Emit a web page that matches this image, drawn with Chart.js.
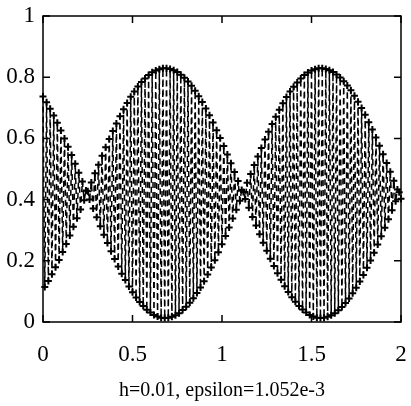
<!DOCTYPE html>
<html><head><meta charset="utf-8">
<script src="https://cdn.jsdelivr.net/npm/chart.js@4.4.1/dist/chart.umd.min.js"></script>
<style>html,body{margin:0;padding:0;background:#fff;}canvas{display:block;}</style>
</head><body>
<canvas id="c" width="411" height="406"></canvas>
<script>
// step size in x
const h = 0.01;
const xTicks = [0, 0.5, 1, 1.5, 2];
const yTicks = [0, 0.2, 0.4, 0.6, 0.8, 1];
const titleText = 'h=0.01, epsilon=1.052e-3';

// values at even steps n = 0,2,...,200 (x = 0, 0.02, ..., 2)
const evenVals = [
0.737,0.718,0.697,0.675,0.651,0.626,0.600,0.573,0.546,0.517,
0.488,0.459,0.430,0.400,0.371,0.342,0.313,0.285,0.258,0.231,
0.206,0.181,0.158,0.137,0.116,0.097,0.080,0.065,0.052,0.040,
0.031,0.023,0.018,0.014,0.013,0.014,0.017,0.022,0.029,0.039,
0.050,0.063,0.078,0.095,0.113,0.133,0.155,0.178,0.202,0.228,
0.254,0.281,0.309,0.338,0.367,0.396,0.425,0.455,0.484,0.513,
0.541,0.569,0.596,0.622,0.647,0.671,0.694,0.715,0.735,0.753,
0.769,0.783,0.796,0.807,0.815,0.822,0.826,0.829,0.829,0.827,
0.823,0.817,0.809,0.799,0.787,0.773,0.757,0.739,0.720,0.699,
0.677,0.653,0.629,0.603,0.576,0.548,0.520,0.491,0.462,0.433,
0.403
];
// values at odd steps n = 1,3,...,199 (x = 0.01, 0.03, ..., 1.99)
const oddVals = [
0.114,0.134,0.156,0.179,0.203,0.229,0.255,0.283,0.311,0.339,
0.368,0.398,0.427,0.456,0.486,0.514,0.543,0.571,0.598,0.624,
0.649,0.672,0.695,0.716,0.736,0.753,0.770,0.784,0.796,0.807,
0.816,0.822,0.826,0.829,0.829,0.827,0.823,0.817,0.808,0.798,
0.786,0.772,0.756,0.738,0.719,0.698,0.676,0.652,0.627,0.601,
0.575,0.547,0.519,0.490,0.461,0.431,0.402,0.373,0.343,0.315,
0.287,0.259,0.233,0.207,0.183,0.159,0.138,0.117,0.098,0.081,
0.066,0.052,0.041,0.031,0.023,0.018,0.014,0.013,0.014,0.017,
0.022,0.029,0.038,0.049,0.062,0.077,0.094,0.112,0.132,0.154,
0.177,0.201,0.226,0.253,0.280,0.308,0.336,0.365,0.395,0.424
];

const points = [];
const total = evenVals.length + oddVals.length;
for (let n = 0; n < total; n++) {
  const y = (n % 2 === 0) ? evenVals[n / 2] : oddVals[(n - 1) / 2];
  points.push({ x: Math.round(n * h * 100) / 100, y: y });
}

const serif = 'Liberation Serif, Times New Roman, serif';

const frame = {
  id: 'frame',
  afterDatasetsDraw(chart) {
    const { ctx, chartArea: a, scales: { x, y } } = chart;
    ctx.save();
    ctx.strokeStyle = '#000';
    ctx.lineWidth = 1.5;
    ctx.strokeRect(a.left, a.top, a.right - a.left, a.bottom - a.top);
    const L = 7;
    ctx.beginPath();
    x.ticks.forEach(t => {
      const px = x.getPixelForValue(t.value);
      ctx.moveTo(px, a.bottom); ctx.lineTo(px, a.bottom - L);
      ctx.moveTo(px, a.top); ctx.lineTo(px, a.top + L);
    });
    y.ticks.forEach(t => {
      const py = y.getPixelForValue(t.value);
      ctx.moveTo(a.left, py); ctx.lineTo(a.left + L, py);
      ctx.moveTo(a.right, py); ctx.lineTo(a.right - L, py);
    });
    ctx.stroke();
    ctx.restore();
  }
};

new Chart(document.getElementById('c'), {
  type: 'line',
  data: {
    datasets: [{
      data: points,
      borderColor: '#000',
      borderWidth: 1.5,
      borderDash: [6, 4],
      pointStyle: 'cross',
      pointRadius: 3.5,
      pointBorderWidth: 2,
      pointBorderColor: '#000',
      pointBackgroundColor: '#000',
      tension: 0,
      fill: false,
      clip: false
    }]
  },
  options: {
    responsive: false,
    animation: false,
    events: [],
    layout: { padding: { left: 0, right: 10, top: 16, bottom: 0 } },
    plugins: { legend: { display: false }, tooltip: { enabled: false } },
    scales: {
      x: {
        type: 'linear', min: 0, max: 2,
        afterBuildTicks: s => { s.ticks = xTicks.map(v => ({ value: v })); },
        afterFit: s => { s.height = 84; s.paddingLeft = 0; s.paddingRight = 0; },
        grid: { display: false, drawTicks: false },
        border: { display: false },
        ticks: { color: '#000', font: { family: serif, size: 23 }, padding: 19, maxRotation: 0, autoSkip: false,
                 callback: v => String(v) },
        title: { display: true, text: titleText, color: '#000', font: { family: serif, size: 20 },
                 padding: { top: 0, bottom: 3 } }
      },
      y: {
        type: 'linear', min: 0, max: 1,
        afterBuildTicks: s => { s.ticks = yTicks.map(v => ({ value: v })); },
        afterFit: s => { s.width = 43; s.paddingTop = 0; s.paddingBottom = 0; },
        grid: { display: false, drawTicks: false },
        border: { display: false },
        ticks: { color: '#000', font: { family: serif, size: 23 }, padding: 8, autoSkip: false,
                 callback: v => String(v) }
      }
    }
  },
  plugins: [frame]
});
</script>
</body></html>
